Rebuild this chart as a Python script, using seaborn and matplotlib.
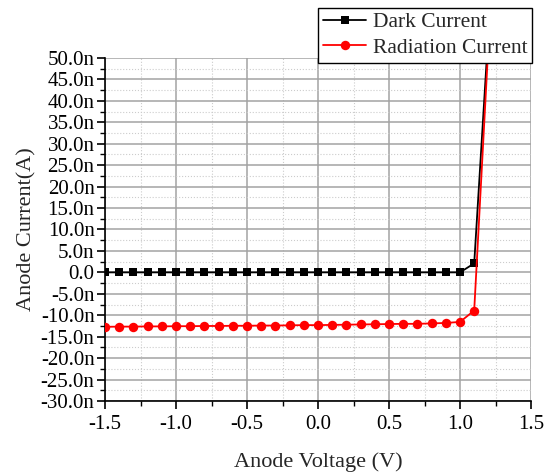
import numpy as np
import pandas as pd
import seaborn as sns
import matplotlib.pyplot as plt
from matplotlib.ticker import MultipleLocator, FuncFormatter

# anode voltage (V)
voltage = [-1.5, -1.4, -1.3, -1.2, -1.1, -1.0, -0.9, -0.8, -0.7, -0.6,
           -0.5, -0.4, -0.3, -0.2, -0.1, 0.0, 0.1, 0.2, 0.3, 0.4,
           0.5, 0.6, 0.7, 0.8, 0.9, 1.0, 1.1, 1.2]
# currents in nA
dark_current = [0.0, 0.0, 0.0, 0.0, 0.0, 0.0, 0.0, 0.0, 0.0, 0.0,
                0.0, 0.0, 0.0, 0.0, 0.0, 0.0, 0.0, 0.0, 0.0, 0.0,
                0.0, 0.0, 0.0, 0.0, 0.0, 0.0, 2.1, 56.0]
radiation_current = [-12.7, -12.65, -12.65, -12.6, -12.6, -12.55, -12.55, -12.5, -12.5, -12.45,
                     -12.45, -12.4, -12.4, -12.35, -12.3, -12.3, -12.25, -12.2, -12.15, -12.1,
                     -12.05, -12.0, -12.0, -11.9, -11.8, -11.55, -8.9, 53.0]
series = ["Dark Current", "Radiation Current"]

df = pd.DataFrame({"V": voltage * 2,
                   "I": dark_current + radiation_current,
                   "s": [series[0]] * len(voltage) + [series[1]] * len(voltage)})

sns.set_style("ticks")
plt.rcParams['font.family'] = ['Liberation Serif', 'DejaVu Serif']
plt.rcParams['axes.unicode_minus'] = False

fig = plt.figure(figsize=(5.51, 4.73), dpi=100)
ax = fig.add_axes([0.1906, 0.1522, 0.7731, 0.7252])

sns.lineplot(data=df, x="V", y="I", hue="s", style="s",
             palette={series[0]: "black", series[1]: "red"},
             markers={series[0]: "s", series[1]: "o"},
             dashes=False, linewidth=1.3, markersize=6, markeredgewidth=0,
             ax=ax, zorder=3)
# square vs circle marker sizes
for ln in ax.lines:
    if ln.get_marker() == "s":
        ln.set_markersize(5.3)
    elif ln.get_marker() == "o":
        ln.set_markersize(6.8)

ax.set_xlim(-1.5, 1.5)
ax.set_ylim(-30, 50)
ax.xaxis.set_major_locator(MultipleLocator(0.5))
ax.xaxis.set_minor_locator(MultipleLocator(0.25))
ax.yaxis.set_major_locator(MultipleLocator(5))
ax.yaxis.set_minor_locator(MultipleLocator(2.5))
ax.xaxis.set_major_formatter(FuncFormatter(lambda v, p: f"{v:.1f}"))
ax.yaxis.set_major_formatter(FuncFormatter(lambda v, p: "0.0" if abs(v) < 1e-9 else f"{v:.1f}n"))

ax.grid(which="major", color="#a3a3a3", linewidth=1.1, linestyle="-")
ax.grid(which="minor", color="#cccccc", linewidth=0.8, linestyle=":")
ax.set_axisbelow(True)

for s in ["top", "right"]:
    ax.spines[s].set_visible(False)
for s in ["left", "bottom"]:
    ax.spines[s].set_linewidth(1.2)
    ax.spines[s].set_color("black")

ax.tick_params(which="major", direction="out", length=6, width=1.2, labelsize=15, colors="black", pad=1.5)
ax.tick_params(which="minor", direction="out", length=3.5, width=1.0, colors="black")
ax.tick_params(axis="x", which="major", pad=4)

ax.set_xlabel("Anode Voltage (V)", fontsize=16, labelpad=13)
ax.set_ylabel("Anode Current(A)", fontsize=16, labelpad=3)

ax.get_legend().remove()
h, l = ax.get_legend_handles_labels()
for hd in h:
    if hd.get_marker() == "s":
        hd.set_markersize(5.3)
    elif hd.get_marker() == "o":
        hd.set_markersize(6.8)
leg = fig.legend(h, l, loc="upper right", bbox_to_anchor=(0.9655, 0.984),
                 fontsize=15.5, frameon=True, fancybox=False, framealpha=1,
                 edgecolor="black", borderaxespad=0, handlelength=2.0,
                 handletextpad=0.3, borderpad=0.22, labelspacing=0.25)
leg.get_frame().set_linewidth(1.0)

fig.savefig("out.png", dpi=100)
